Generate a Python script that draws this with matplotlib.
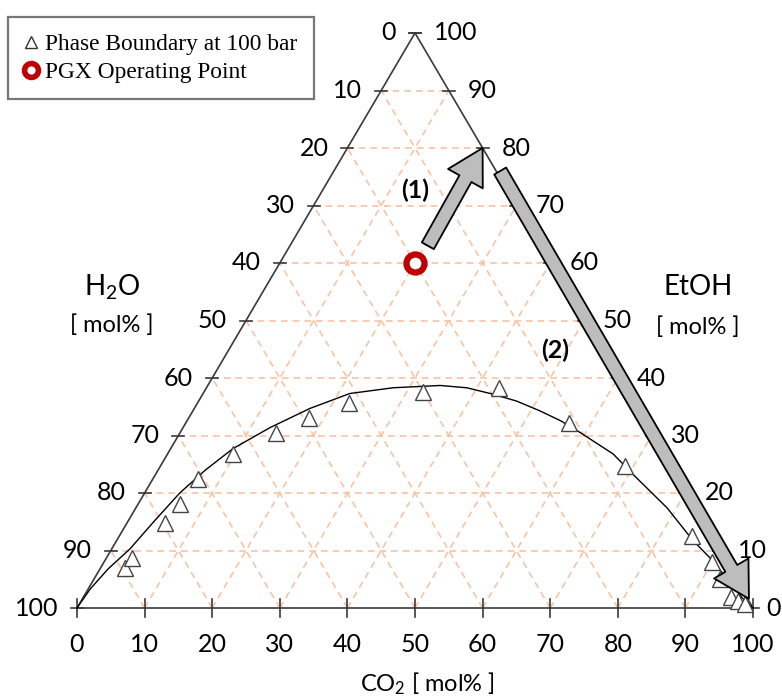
import numpy as np
import matplotlib
matplotlib.use("Agg")
import matplotlib.pyplot as plt
from matplotlib.lines import Line2D
from matplotlib.transforms import offset_copy

plt.rcParams["font.family"] = ["Lato", "DejaVu Sans"]

# measured phase boundary at 100 bar, mol%
boundary_co2 = [3.6, 3.8, 5.6, 6.2, 6.7, 9.7, 14.2, 17.8, 22.4, 32.5, 43.3,
                56.7, 68.7, 84.7, 89.9, 92.6, 95.8, 97.2, 98.5]
boundary_etoh = [7.0, 8.7, 14.8, 18.1, 22.5, 26.8, 30.5, 33.1, 35.7, 37.5, 38.3,
                 32.2, 24.7, 12.5, 8.0, 5.1, 1.9, 1.2, 0.7]

# fitted two-phase envelope
curve_co2 = [0, 0.3, 1.2, 2.7, 3.9, 5.2, 7.0, 9.2, 12.9, 17.1, 21.7, 27.6, 34.4,
             38.5, 42.5, 47.0, 51.3, 55.4, 59.2, 65.9, 71.5, 78.6, 85.3, 89.3,
             93.5, 97.6, 100]
curve_etoh = [0, 3.3, 6.8, 10.3, 15.2, 20.0, 24.0, 27.7, 31.4, 34.7, 37.3, 38.3,
              38.7, 38.3, 37.3, 36.0, 34.3, 32.5, 30.5, 26.8, 22.6, 17.4, 11.7,
              8.7, 5.2, 1.7, 0]

# PGX operating point (CO2, EtOH), H2O is the balance
op_co2, op_etoh = 20, 60

# process steps: (1) water removal, (2) CO2 addition
step1_co2 = [20.4, 20.0]
step1_etoh = [63.0, 80.0]
step2_co2 = [24.6, 98.6]
step2_etoh = [76.0, 1.6]

levels = list(range(0, 101, 10))

GRID = "#f8c4a4"
EDGE = "#3a3a3a"
RED = "#c00000"


def tern(co2, etoh):
    co2 = np.asarray(co2, dtype=float)
    etoh = np.asarray(etoh, dtype=float)
    return co2 + etoh / 2, etoh


W, H = 782, 700
fig = plt.figure(figsize=(W / 100, H / 100), dpi=100)
ax = fig.add_axes([77 / W, (H - 608) / H, 676 / W, 575 / H])
ax.set_xlim(0, 100)
ax.set_ylim(0, 100)
ax.axis("off")

# dashed grid
for v in levels[1:-1]:
    ax.plot([v / 2, 100 - v / 2], [v, v], color=GRID, lw=1.2, ls=(0, (4, 3)), zorder=1)
    ax.plot([v, v / 2], [0, v], color=GRID, lw=1.2, ls=(0, (4, 3)), zorder=1)
    ax.plot([v, v + (100 - v) / 2], [0, 100 - v], color=GRID, lw=1.2, ls=(0, (4, 3)), zorder=1)

# triangle frame
ax.plot([0, 100, 50, 0], [0, 0, 100, 0], color=EDGE, lw=1.2, zorder=3, clip_on=False)

# ticks and tick labels
fs = 18
for v in levels:
    ax.plot([v, v], [-1.6, 1.6], color=EDGE, lw=1.2, zorder=3, clip_on=False)
    ax.text(v, 0, f"{v}", fontsize=fs, ha="center", va="center",
            transform=offset_copy(ax.transData, fig, y=-37, units="dots"))
    ax.plot([v / 2 - 0.9, v / 2 + 0.9], [v, v], color=EDGE, lw=1.2, zorder=3, clip_on=False)
    ax.text(v / 2, v, f"{100 - v}", fontsize=fs, ha="right", va="center",
            transform=offset_copy(ax.transData, fig, x=-19, units="dots"))
    ax.plot([100 - v / 2 - 0.9, 100 - v / 2 + 0.9], [v, v], color=EDGE, lw=1.2,
            zorder=3, clip_on=False)
    dx = 13 if v == 0 else 19
    ax.text(100 - v / 2, v, f"{v}", fontsize=fs, ha="left", va="center",
            transform=offset_copy(ax.transData, fig, x=dx, units="dots"))

# phase boundary
cx, cy = tern(curve_co2, curve_etoh)
ax.plot(cx, cy, color="black", lw=1.0, zorder=4, clip_on=False)
bx, by = tern(boundary_co2, boundary_etoh)
ax.plot(bx, by, ls="none", marker="^", ms=12, mfc="white", mec="#444444", mew=1.0,
        zorder=5, clip_on=False)

# operating point
ox, oy = tern([op_co2], [op_etoh])
ax.plot(ox, oy, ls="none", marker="o", ms=13, mfc="white", mec=RED, mew=4.5, zorder=6)

# process arrows
arrow_style = dict(arrowstyle="simple,head_length=1.15,head_width=1.3,tail_width=0.45",
                   fc="#bdbdbd", ec="black", lw=1.3, shrinkA=0, shrinkB=0,
                   mutation_scale=22)
for sc, se in [(step1_co2, step1_etoh), (step2_co2, step2_etoh)]:
    sx, sy = tern(sc, se)
    ax.annotate("", xy=(sx[1], sy[1]), xytext=(sx[0], sy[0]), arrowprops=arrow_style,
                zorder=7, annotation_clip=False)

fig.text(415 / W, 1 - 190 / H, "(1)", fontsize=18, fontweight="bold", ha="center", va="center")
fig.text(555 / W, 1 - 350 / H, "(2)", fontsize=18, fontweight="bold", ha="center", va="center")

# axis titles
fig.text(112 / W, 1 - 287 / H, r"H$\mathregular{_2}$O", fontsize=20, ha="center", va="center")
fig.text(112 / W, 1 - 325 / H, "[ mol% ]", fontsize=17, ha="center", va="center")
fig.text(698 / W, 1 - 287 / H, "EtOH", fontsize=20, ha="center", va="center")
fig.text(698 / W, 1 - 327 / H, "[ mol% ]", fontsize=17, ha="center", va="center")
fig.text(427 / W, 1 - 684 / H, r"CO$\mathregular{_2}$ [ mol% ]", fontsize=17,
         ha="center", va="center")

handles = [
    Line2D([], [], ls="none", marker="^", ms=9, mfc="white", mec="#333333", mew=1.0),
    Line2D([], [], ls="none", marker="o", ms=10, mfc="white", mec=RED, mew=4.0),
]
leg = fig.legend(handles, ["Phase Boundary at 100 bar", "PGX Operating Point"],
                 loc="upper left", bbox_to_anchor=(8 / W, 1 - 17 / H),
                 prop={"family": "Liberation Serif", "size": 16.8},
                 frameon=True, fancybox=False, edgecolor="#555555",
                 handlelength=0.6, handletextpad=0.3, borderpad=0.7,
                 labelspacing=0.3, borderaxespad=0)
leg.get_frame().set_linewidth(1.6)

fig.savefig("out.png", dpi=100)
